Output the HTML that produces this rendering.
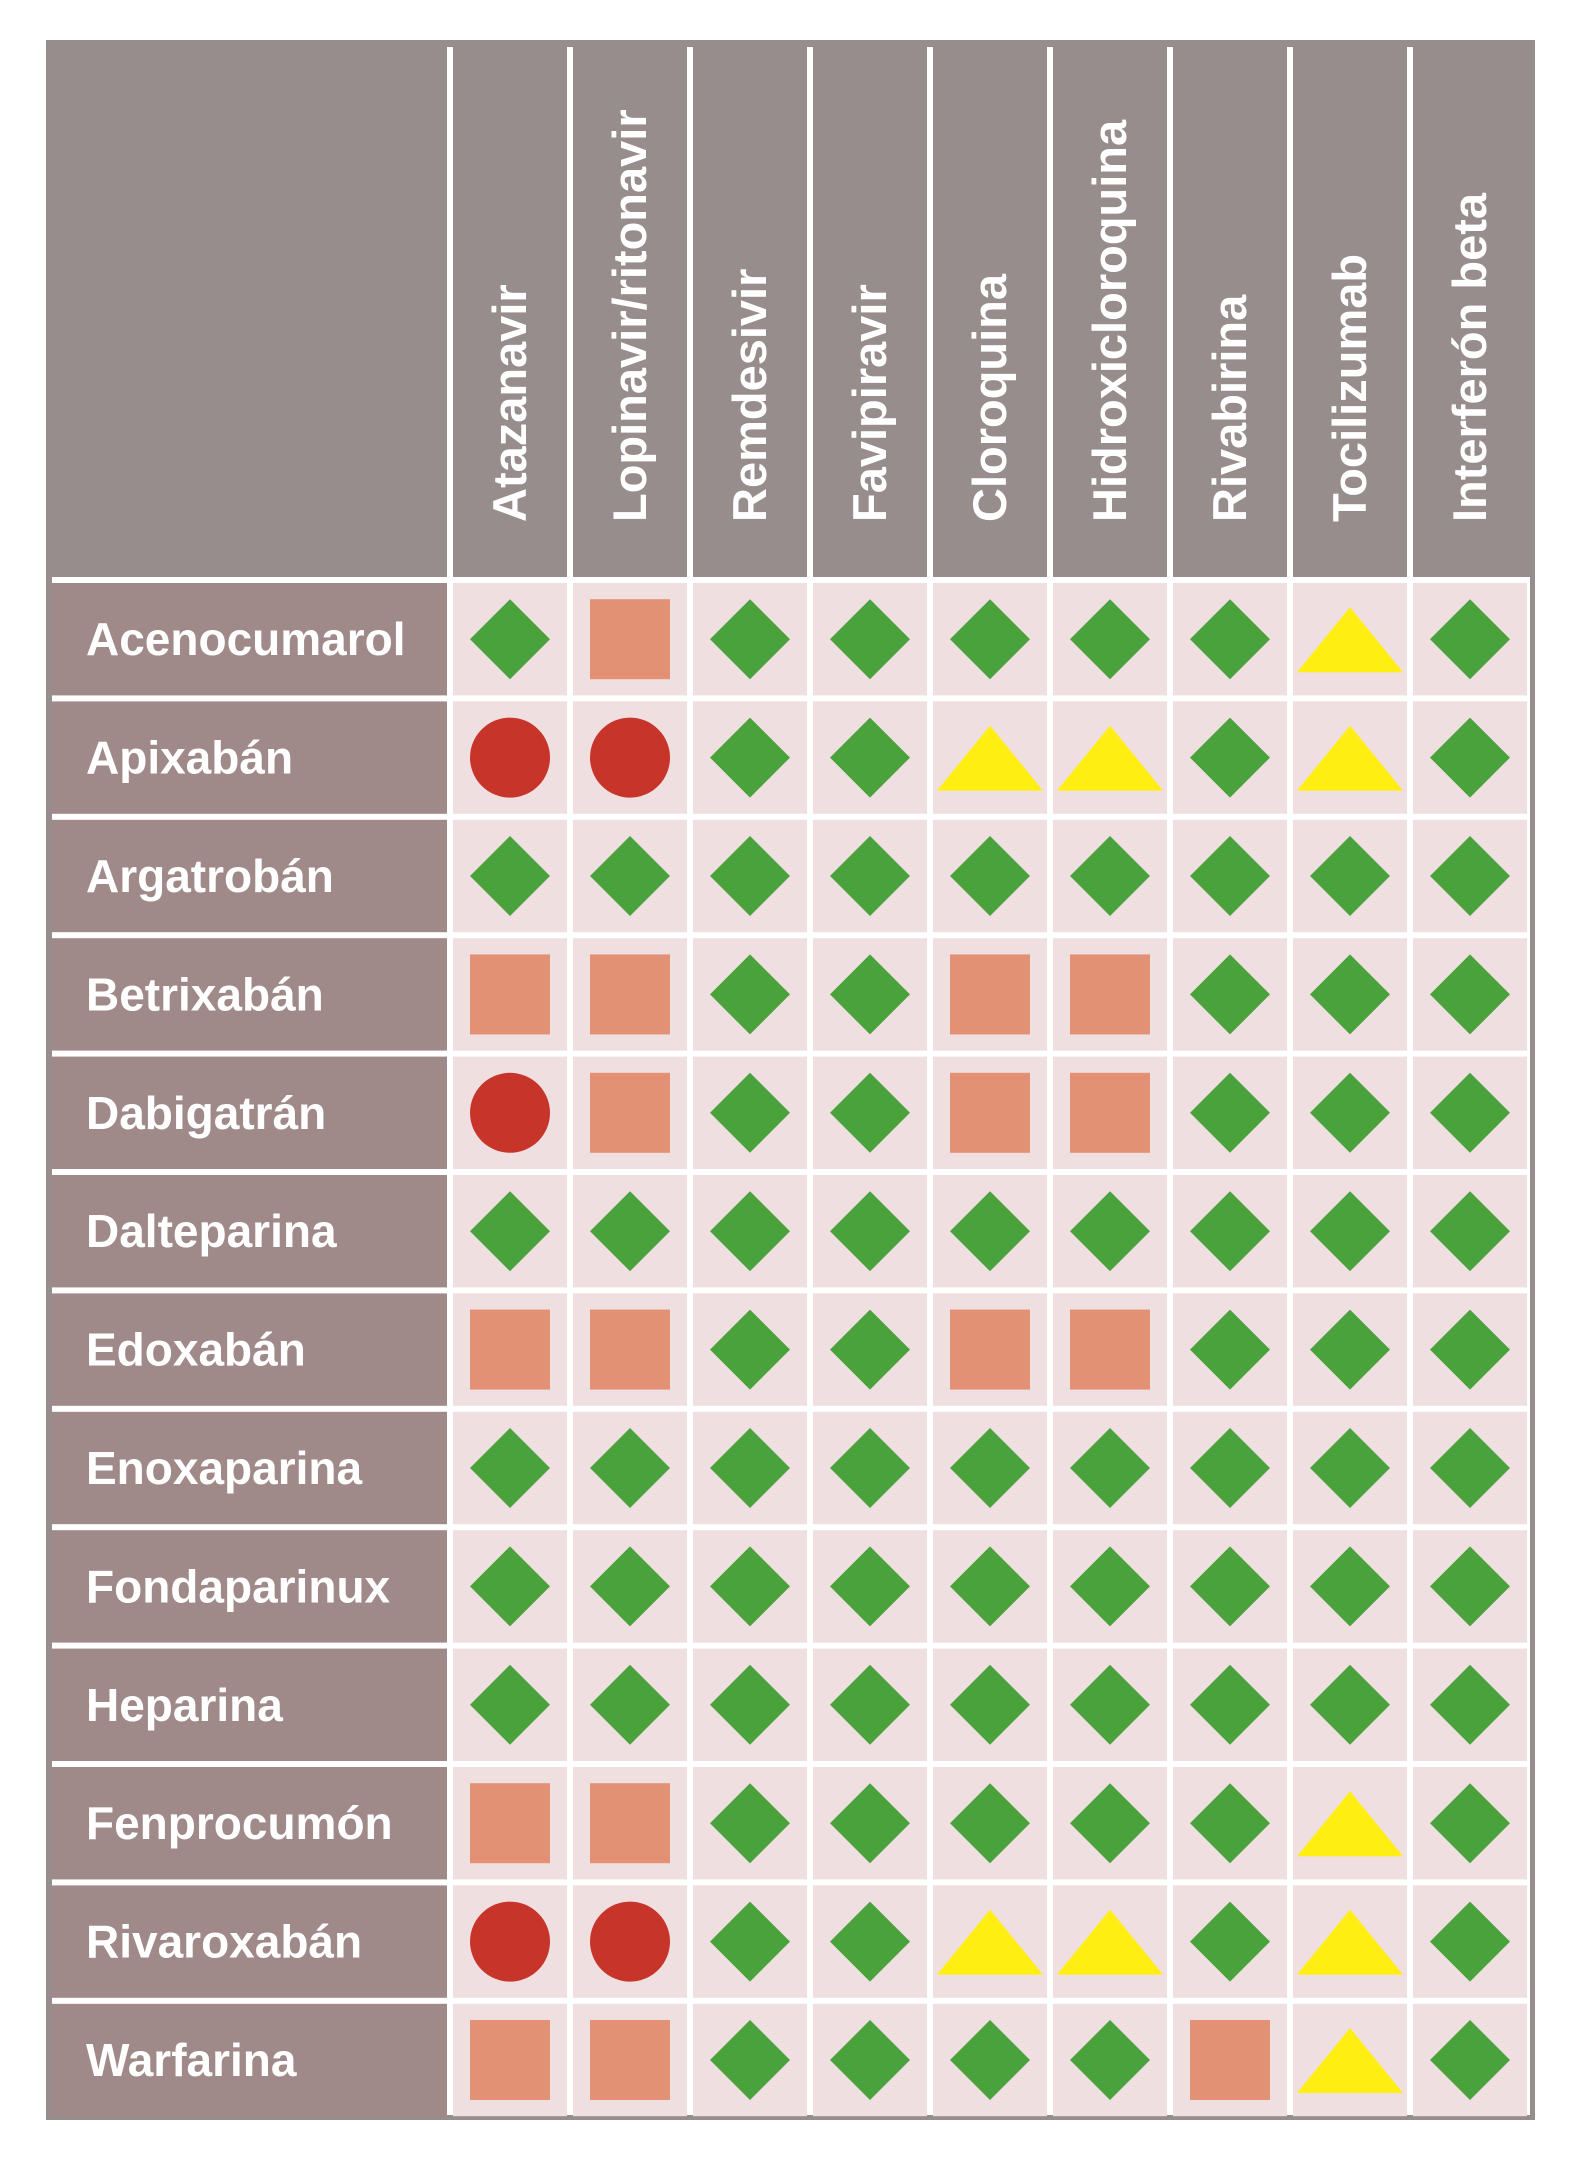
<!DOCTYPE html>
<html><head><meta charset="utf-8"><style>
html,body{margin:0;padding:0;background:#fff;width:1575px;height:2160px;overflow:hidden}
svg{display:block}
text{font-family:"Liberation Sans","DejaVu Sans",sans-serif;font-weight:bold;fill:#fff}
</style></head><body>
<svg id="s" width="1575" height="2160" xmlns="http://www.w3.org/2000/svg">
<rect x="46" y="40" width="1489" height="2080" fill="#978d8c"/>
<rect x="52" y="46" width="1478" height="2069" fill="#fff"/>
<rect x="52" y="46" width="1478" height="531" fill="#978d8c"/>
</svg>
<script>
var s=document.getElementById('s'),NS='http://www.w3.org/2000/svg';
function el(t,a,txt){var e=document.createElementNS(NS,t);for(var k in a)e.setAttribute(k,a[k]);if(txt)e.textContent=txt;s.appendChild(e);return e;}
var cols=["Atazanavir","Lopinavir/ritonavir","Remdesivir","Favipiravir","Cloroquina","Hidroxicloroquina","Rivabirina","Tocilizumab","Interferón beta"];
var rows=[["Acenocumarol","DSDDDDDTD"],["Apixabán","CCDDTTDTD"],["Argatrobán","DDDDDDDDD"],["Betrixabán","SSDDSSDDD"],["Dabigatrán","CSDDSSDDD"],["Dalteparina","DDDDDDDDD"],["Edoxabán","SSDDSSDDD"],["Enoxaparina","DDDDDDDDD"],["Fondaparinux","DDDDDDDDD"],["Heparina","DDDDDDDDD"],["Fenprocumón","SSDDDDDTD"],["Rivaroxabán","CCDDTTDTD"],["Warfarina","SSDDDDSTD"]];
var x0=450,cw=120,y0=580,rh=118.4;
for(var i=0;i<=8;i++){el('rect',{x:x0+i*cw-3,y:47,width:6,height:533,fill:'#fff'});}
cols.forEach(function(c,i){var cx=x0+i*cw+60;el('text',{x:cx+16,y:522,'font-size':47,transform:'rotate(-90 '+(cx+16)+' 522)'},c);});
rows.forEach(function(r,j){
 var yt=y0+j*rh+3, h=rh-6;
 el('rect',{x:52,y:yt,width:395,height:h,fill:'#a08a89'});
 el('text',{x:86,y:yt+h/2+16,'font-size':46},r[0]);
 for(var i=0;i<9;i++){
  var xl=x0+i*cw+3;
  el('rect',{x:xl,y:yt,width:cw-6,height:h,fill:'#f0dfe1'});
  var cx=xl+57,cy=yt+h/2,t=r[1][i];
  if(t=='D')el('polygon',{points:(cx)+','+(cy-40)+' '+(cx+40)+','+cy+' '+cx+','+(cy+40)+' '+(cx-40)+','+cy,fill:'#4aa23c'});
  else if(t=='S')el('rect',{x:cx-40,y:cy-40,width:80,height:80,fill:'#e39174'});
  else if(t=='C')el('circle',{cx:cx,cy:cy,r:40,fill:'#c7342a'});
  else el('polygon',{points:cx+','+(cy-32)+' '+(cx+53)+','+(cy+33)+' '+(cx-53)+','+(cy+33),fill:'#ffee12'});
 }
});
</script>
</body></html>
